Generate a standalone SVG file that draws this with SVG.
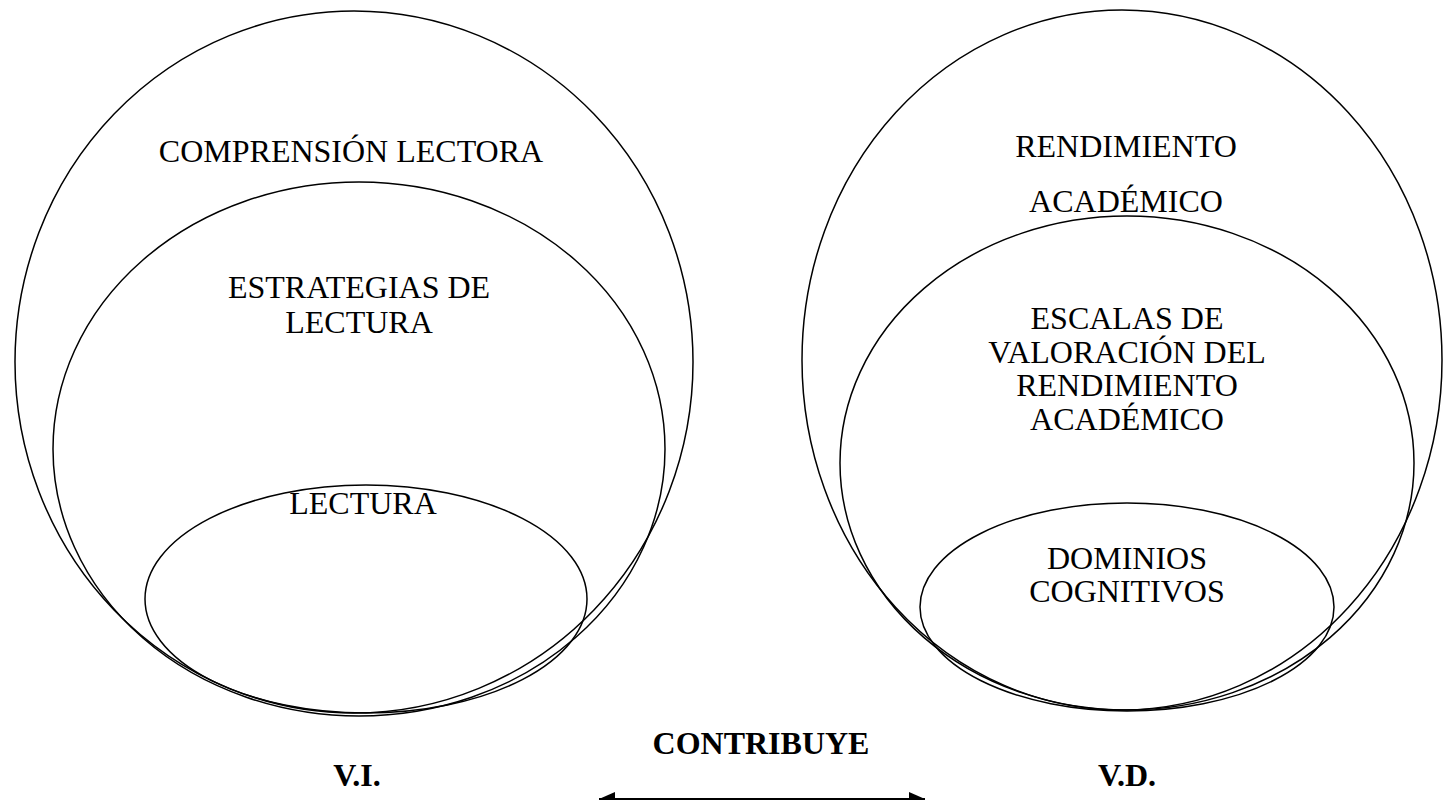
<svg xmlns="http://www.w3.org/2000/svg" width="1445" height="800" viewBox="0 0 1445 800">
<style>
.e{fill:none;stroke:#000;stroke-width:1.5}
.t{font-family:"Liberation Serif","Times New Roman",serif;font-size:32px;text-anchor:middle;fill:#000}
.b{font-weight:bold}
</style>
<defs>
<marker id="ah" viewBox="0 0 16 14" refX="16" refY="7" markerWidth="16" markerHeight="14" orient="auto-start-reverse" markerUnits="userSpaceOnUse">
<path d="M0,0 L16,7 L0,14 z" fill="#000"/>
</marker>
</defs>
<rect width="1445" height="800" fill="#fff"/>
<g id="comprension">
<ellipse class="e" cx="354" cy="362" rx="339" ry="351"/>
<text class="t" x="351" y="162">COMPRENSIÓN LECTORA</text>
</g>
<g id="estrategias">
<ellipse class="e" cx="359" cy="449" rx="306" ry="267"/>
<text class="t" x="359" y="298">ESTRATEGIAS DE</text>
<text class="t" x="359" y="333">LECTURA</text>
</g>
<g id="lectura">
<ellipse class="e" cx="366" cy="599" rx="221" ry="114"/>
<text class="t" x="363" y="514">LECTURA</text>
</g>
<g id="rendimiento">
<ellipse class="e" cx="1122" cy="360" rx="320" ry="350"/>
<text class="t" x="1126" y="157">RENDIMIENTO</text>
<text class="t" x="1126" y="212">ACADÉMICO</text>
</g>
<g id="escalas">
<ellipse class="e" cx="1127" cy="463" rx="287" ry="247"/>
<text class="t" x="1127" y="329">ESCALAS DE</text>
<text class="t" x="1127" y="363">VALORACIÓN DEL</text>
<text class="t" x="1127" y="396">RENDIMIENTO</text>
<text class="t" x="1127" y="430">ACADÉMICO</text>
</g>
<g id="dominios">
<ellipse class="e" cx="1127" cy="607" rx="207" ry="104"/>
<text class="t" x="1127" y="569">DOMINIOS</text>
<text class="t" x="1127" y="602">COGNITIVOS</text>
</g>
<g id="labels">
<text class="t b" x="357" y="786">V.I.</text>
<text class="t b" x="1127" y="786">V.D.</text>
<text class="t b" x="761" y="754">CONTRIBUYE</text>
</g>
<g id="connectors">
<line x1="599" y1="799" x2="925" y2="799" stroke="#000" stroke-width="2" marker-start="url(#ah)" marker-end="url(#ah)"/>
</g>
</svg>
